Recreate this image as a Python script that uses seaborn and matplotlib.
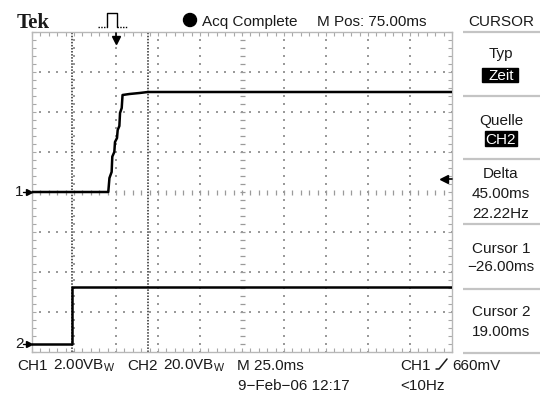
import numpy as np
import pandas as pd
import matplotlib
matplotlib.use("Agg")
import matplotlib.pyplot as plt
from matplotlib.ticker import MultipleLocator
from matplotlib.patches import Rectangle, Circle
import seaborn as sns

# ---------------- data ----------------
ch1_t_ms = [-50.0, -4.6, -3.9, -2.6, -2.2, -1.0, -0.6, 0.6, 1.0, 2.0, 2.4, 3.4, 3.9, 8.0, 14.0, 19.0, 200.0]
ch1_volts = [0.0, 0.0, 0.7, 1.0, 1.77, 2.0, 2.5, 2.7, 3.1, 3.3, 3.95, 4.2, 4.85, 4.9, 4.95, 5.0, 5.0]
ch2_t_ms = [-50.0, -26.0, 200.0]
ch2_volts = [0.0, 28.5, 28.5]

ch1_scale = 2.0        # V/div
ch2_scale = 20.0       # V/div
ch1_offset_div = 0.0
ch2_offset_div = -3.8
time_per_div = 25.0    # ms/div
m_pos = 75.0           # ms at screen centre
cursor_times = [-26.0, 19.0]
trigger_time = 0.0
trigger_level = 0.66   # V on CH1

# ---------------- style ----------------
sns.set_style("white")
plt.rcParams['font.family'] = ['Liberation Sans', 'DejaVu Sans']
TXT = '#1a1a1a'
GRID = '#9a9a9a'
FS = 11

W, H = 540, 396
fig = plt.figure(figsize=(W / 100, H / 100), dpi=100)
fig.patch.set_facecolor('white')

# graticule axes: pixel box 32..452 x 32..352
ax = fig.add_axes([32 / W, (H - 352) / H, 420 / W, 320 / H])
x0 = m_pos - 5 * time_per_div
x1 = m_pos + 5 * time_per_div
ax.set_xlim(x0, x1)
ax.set_ylim(-4, 4)
px_x = time_per_div / 42.0   # ms per pixel
px_y = 1 / 40.0              # div per pixel

for s in ax.spines.values():
    s.set_color('#b8b8b8')
    s.set_linewidth(1.0)
ax.xaxis.set_major_locator(MultipleLocator(time_per_div))
ax.xaxis.set_minor_locator(MultipleLocator(time_per_div / 5))
ax.yaxis.set_major_locator(MultipleLocator(1))
ax.yaxis.set_minor_locator(MultipleLocator(0.2))
ax.tick_params(which='both', direction='in', length=3, width=0.8, color='#a8a8a8',
               top=True, right=True, bottom=True, left=True,
               labelbottom=False, labelleft=False)

# dotted graticule
xs_fine = np.arange(x0, x1 + 0.01, time_per_div / 5)
ys_fine = np.arange(-4, 4.001, 0.2)
gx, gy = [], []
for xv in np.arange(x0 + time_per_div, x1 - 0.01, time_per_div):
    if abs(xv - m_pos) < 1e-6:
        continue
    gx += [xv] * len(ys_fine); gy += list(ys_fine)
for yv in range(-3, 4):
    if yv == 0:
        continue
    gx += list(xs_fine); gy += [yv] * len(xs_fine)
ax.scatter(gx, gy, s=0.9, marker='s', color=GRID, linewidths=0, zorder=1)
# centre cross tick marks
ax.vlines(xs_fine, -2.5 * px_y, 2.5 * px_y, color=GRID, lw=0.9, zorder=1)
ax.hlines(ys_fine, m_pos - 2.5 * px_x, m_pos + 2.5 * px_x, color=GRID, lw=0.9, zorder=1)

# cursors
for ct in cursor_times:
    ax.axvline(ct, color='#2a2a2a', lw=1.1, ls=(0, (1, 1)), zorder=2)

# traces
df1 = pd.DataFrame({'t': ch1_t_ms, 'div': np.array(ch1_volts) / ch1_scale + ch1_offset_div})
df2 = pd.DataFrame({'t': ch2_t_ms, 'div': np.array(ch2_volts) / ch2_scale + ch2_offset_div})
sns.lineplot(data=df1, x='t', y='div', ax=ax, color='black', lw=1.8,
             estimator=None, sort=False, zorder=3)
sns.lineplot(data=df2, x='t', y='div', ax=ax, color='black', lw=1.8,
             drawstyle='steps-post', estimator=None, sort=False, zorder=3)
ax.set_xlabel('')
ax.set_ylabel('')

# trigger position arrow (top)
ax.plot([trigger_time, trigger_time], [4 - 1 * px_y, 4 - 6 * px_y], color='black', lw=1.2, clip_on=False, zorder=4)
ax.plot([trigger_time], [4 - 8 * px_y], marker='v', ms=6, color='black', clip_on=False, zorder=4)
# trigger level arrow (right)
ty = trigger_level / ch1_scale + ch1_offset_div
ax.plot([x1 - 6 * px_x, x1], [ty, ty], color='black', lw=1.2, clip_on=False, zorder=4)
ax.plot([x1 - 8 * px_x], [ty], marker='<', ms=6, color='black', clip_on=False, zorder=4)
# channel ground markers (left)
for lab, off in (("1", ch1_offset_div), ("2", ch2_offset_div)):
    ax.plot([x0 - 9 * px_x, x0 - 2 * px_x], [off, off], color='black', lw=1.0, clip_on=False, zorder=4)
    ax.plot([x0 - 3.5 * px_x], [off], marker='>', ms=4.5, color='black', clip_on=False, zorder=4)
    ax.annotate(lab, xy=(x0, off), xytext=(-13, 0), textcoords='offset pixels',
                ha='center', va='center', fontsize=FS, color=TXT, annotation_clip=False)

# ---------------- overlay (pixel coordinates) ----------------
ov = fig.add_axes([0, 0, 1, 1], facecolor='none')
ov.set_xlim(0, W)
ov.set_ylim(H, 0)
ov.axis('off')

def t(x, y, s, **kw):
    kw.setdefault('fontsize', FS)
    kw.setdefault('color', TXT)
    kw.setdefault('va', 'baseline')
    ov.text(x, y, s, **kw)

t(17, 28, "Tek", family=['Liberation Serif', 'DejaVu Serif'], weight='bold', fontsize=15)
# pulse icon
ov.plot([98, 107], [27, 27], color='black', lw=1, ls=(0, (1, 1)))
ov.plot([107, 107, 117, 117], [27, 13, 13, 27], color='black', lw=1)
ov.plot([117, 128], [27, 27], color='black', lw=1, ls=(0, (1, 1)))
ov.add_patch(Circle((190, 20), 6.5, color='black'))
t(202, 26, "Acq Complete")
t(317, 26, f"M Pos: {m_pos:.2f}ms")
t(501, 26, "CURSOR", ha='center')

# menu
ov.hlines([32, 96, 159, 224, 289, 353], 463, 540, color='#c4c4c4', lw=1.6)
cx = 501
t(cx, 58, "Typ", ha='center')
ov.add_patch(Rectangle((482, 68), 36, 14, color='black'))
t(cx, 80, "Zeit", ha='center', color='white')
t(cx, 125, "Quelle", ha='center')
ov.add_patch(Rectangle((485, 131), 32, 15, color='black'))
t(cx, 144, "CH2", ha='center', color='white')
delta = cursor_times[1] - cursor_times[0]
t(cx, 178, "Delta", ha='center')
t(cx, 198, f"{delta:.2f}ms", ha='center')
t(cx, 218, f"{1000.0 / delta:.2f}Hz", ha='center')
t(cx, 253, "Cursor 1", ha='center')
t(cx, 271, f"{cursor_times[0]:.2f}ms".replace('-', '\u2212'), ha='center')
t(cx, 316, "Cursor 2", ha='center')
t(cx, 336, f"{cursor_times[1]:.2f}ms", ha='center')

# bottom status
t(17, 370, "CH1")
t(53, 370, f"{ch1_scale:.2f}V" + r"$\mathregular{B_W}$")
t(127, 370, "CH2")
t(163, 370, f"{ch2_scale:.1f}V" + r"$\mathregular{B_W}$")
t(237, 370, f"M {time_per_div:.1f}ms")
t(400, 370, "CH1")
ov.plot([436, 439, 447], [369, 369, 359], color=TXT, lw=1.1)
t(452, 370, f"{trigger_level * 1000:.0f}mV")
t(238, 390, "9\u2212Feb\u221206 12:17")
t(400, 390, "<10Hz")

fig.savefig("out.png", dpi=100)
